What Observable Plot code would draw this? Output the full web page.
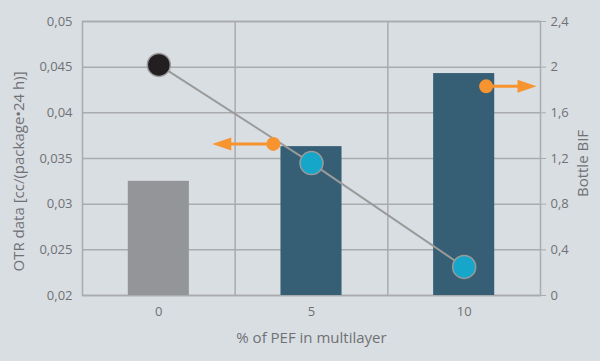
<!DOCTYPE html>
<html>
<head>
<meta charset="utf-8">
<script src="https://cdn.jsdelivr.net/npm/d3@7"></script>
<script src="https://cdn.jsdelivr.net/npm/@observablehq/plot@0.6"></script>
<style>
  html, body { margin: 0; padding: 0; background: #d9dee3; }
  #chart { width: 600px; height: 361px; }
</style>
</head>
<body>
<div id="chart"></div>
<script>
// Data
const pct = [0, 5, 10];
const otr = [0.0325, 0.0363, 0.0443];
const bif = [2.02, 1.16, 0.25];
const barColors = ["#939598", "#365f76", "#365f76"];
const dotColors = ["#231f20", "#15a6c9", "#15a6c9"];
const otrTicks = [0.02, 0.025, 0.03, 0.035, 0.04, 0.045, 0.05];
const bifTicks = [0, 0.4, 0.8, 1.2, 1.6, 2, 2.4];
const xTicks = [0, 5, 10];
const xLabel = "% of PEF in multilayer";
const yLeftLabel = "OTR data [cc/(package\u202224 h)]";
const yRightLabel = "Bottle BIF";
// Orange axis-indicator arrows (annotations): dot position & tip
const arrowLeft = {x: 3.75, tip: 1.75, y: 0.0366};
const arrowRight = {x: 10.72, tip: 12.37, y: 0.0429};

const otrMin = 0.02, otrMax = 0.05, bifMax = 2.4;
const toY = b => otrMin + b / bifMax * (otrMax - otrMin);
const fromY = v => (v - otrMin) / (otrMax - otrMin) * bifMax;
const comma = v => String(+v.toFixed(4)).replace(".", ",");

const rows = pct.map((p, i) => ({pct: p, otr: otr[i], bif: bif[i], bar: barColors[i], dot: dotColors[i]}));
const arrows = [arrowLeft, arrowRight];

const head = {draw(ctx) { ctx.moveTo(0, 0); ctx.lineTo(-19, -6.5); ctx.lineTo(-19, 6.5); ctx.closePath(); }};

const textColor = "#707174";
const gridColor = "#a9abae";

const chart = Plot.plot({
  width: 600,
  height: 361,
  marginLeft: 82,
  marginRight: 60,
  marginTop: 21,
  marginBottom: 66,
  style: {background: "#d9dee3", fontFamily: "'Open Sans', sans-serif", fontSize: "13px", color: textColor},
  x: {domain: [-2.5, 12.5]},
  y: {domain: [otrMin, otrMax]},
  marks: [
    Plot.ruleY(otrTicks, {stroke: gridColor, strokeWidth: 1.5}),
    Plot.ruleX([2.5, 7.5], {stroke: gridColor, strokeWidth: 1.5}),
    Plot.frame({stroke: gridColor, strokeWidth: 1.5}),
    Plot.rectY(rows, {x1: d => d.pct - 1, x2: d => d.pct + 1, y1: otrMin, y2: "otr", fill: "bar"}),
    Plot.line(rows, {x: "pct", y: d => toY(d.bif), stroke: "#9a9a9a", strokeWidth: 2}),
    Plot.dot(rows, {x: "pct", y: d => toY(d.bif), r: 11.5, fill: "dot", stroke: "#9a9a9a", strokeWidth: 1.5}),
    Plot.link(arrows, {x1: "x", x2: d => d.tip + (d.tip < d.x ? 0.6 : -0.6), y1: "y", y2: "y", stroke: "#f7942f", strokeWidth: 3}),
    Plot.dot(arrows, {x: "x", y: "y", r: 7, fill: "#f7942f"}),
    Plot.dot(arrows, {x: "tip", y: "y", symbol: head, fill: "#f7942f", rotate: d => d.tip < d.x ? 180 : 0}),
    Plot.axisY({anchor: "left", ticks: otrTicks, tickFormat: comma, tickSize: 0, tickPadding: 10, label: null, fill: textColor}),
    Plot.axisY({anchor: "right", ticks: bifTicks.map(toY), tickFormat: v => comma(fromY(v)), tickSize: 5, tickPadding: 5, label: null, stroke: gridColor, fill: textColor}),
    Plot.axisX({ticks: xTicks, tickSize: 0, tickPadding: 11, label: null, fill: textColor}),
    Plot.text([xLabel], {frameAnchor: "bottom", lineAnchor: "middle", dy: 43, fontSize: 15, fill: textColor}),
    Plot.text([yLeftLabel], {frameAnchor: "left", textAnchor: "middle", lineAnchor: "middle", dx: -63, dy: 13, rotate: -90, fontSize: 15, fill: textColor}),
    Plot.text([yRightLabel], {frameAnchor: "right", textAnchor: "middle", lineAnchor: "middle", dx: 43, dy: 5, rotate: -90, fontSize: 15, fill: textColor})
  ]
});
document.getElementById("chart").appendChild(chart);
</script>
</body>
</html>
